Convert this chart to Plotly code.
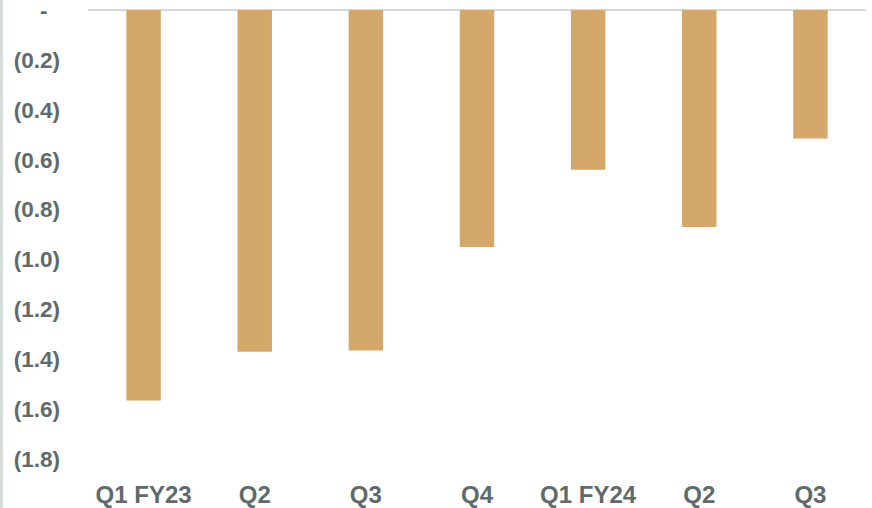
import plotly.graph_objects as go

categories = ["Q1 FY23", "Q2", "Q3", "Q4", "Q1 FY24", "Q2 ", "Q3 "]
values = [-1.565, -1.37, -1.365, -0.95, -0.64, -0.87, -0.515]
tick_vals = [0, -0.2, -0.4, -0.6, -0.8, -1.0, -1.2, -1.4, -1.6, -1.8]
tick_text = ["-\u00a0\u00a0", "(0.2)", "(0.4)", "(0.6)", "(0.8)", "(1.0)", "(1.2)", "(1.4)", "(1.6)", "(1.8)"]

W, H = 872, 508
L, R, T, B = 88, 6, 10, 49
pw = W - L - R
ph = H - T - B

fig = go.Figure()
fig.add_trace(go.Bar(x=categories, y=values, marker=dict(color="#D3A86A", line=dict(width=0))))

yfont = dict(family="Liberation Sans", size=22.5, color="#5E6B6A", weight="bold")
xfont = dict(family="Liberation Sans", size=24, color="#5E6B6A", weight="bold")
fig.update_layout(
    width=W, height=H,
    margin=dict(l=L, r=R, t=T, b=B, autoexpand=False),
    paper_bgcolor="white", plot_bgcolor="white",
    bargap=0.69,
    showlegend=False,
    xaxis=dict(showgrid=False, showline=False, zeroline=False, ticks="",
               tickfont=xfont, ticklabelstandoff=19, automargin=False,
               tickvals=categories, ticktext=[c.strip() for c in categories]),
    yaxis=dict(range=[-1.8, 0.0005], showgrid=False, showline=False,
               zeroline=True, zerolinecolor="#D9D9D9", zerolinewidth=2,
               tickvals=tick_vals, ticktext=tick_text, tickfont=yfont, automargin=False,
               ticks="", ticklabelstandoff=27, ticklabeloverflow="allow"),
    shapes=[dict(type="rect", xref="paper", yref="paper",
                 x0=-L / pw, x1=-(L - 3) / pw,
                 y0=-B / ph, y1=1 + T / ph,
                 fillcolor="#D6DDD9", line=dict(width=0), layer="above")],
)

fig.write_html("out.html")
